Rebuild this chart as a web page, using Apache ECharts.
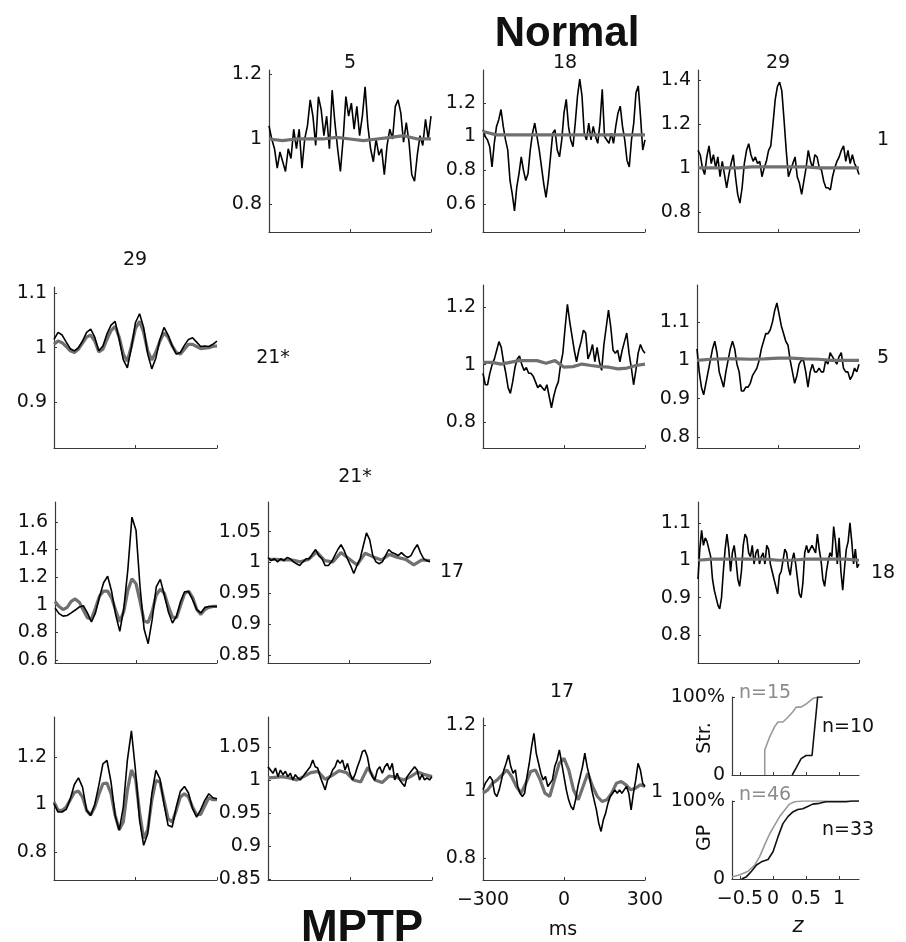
<!DOCTYPE html>
<html>
<head>
<meta charset="utf-8">
<script src="https://cdn.jsdelivr.net/npm/echarts@6/dist/echarts.min.js"></script>
<style>
  html, body { margin: 0; background: #fff; }
  #chart { width: 906px; height: 942px; }
</style>
</head>
<body>
<div id="chart"></div>
<script>
// ---- cross-correlograms, black = raw, gray = shift predictor (sampled evenly over -300..300 ms)
// Normal (upper triangle)
const normal_1_5 = [1.04,1.0,0.97,0.91,0.96,0.93,0.90,0.97,0.94,1.03,0.97,1.03,0.91,1.0,1.04,1.12,1.07,0.98,1.13,1.09,1.01,1.07,0.97,1.15,1.05,0.97,0.90,1.0,1.13,1.07,1.11,1.03,1.10,1.01,1.07,1.16,1.04,0.97,0.93,1.0,0.95,0.97,0.89,0.98,1.03,1.0,1.10,1.12,1.08,0.99,1.05,0.99,0.89,0.87,0.95,1.01,0.98,1.06,1.0,1.07];
const normal_1_5_pred = [1.0,0.995,1.0,1.0,1.0,1.005,1.0,0.995,1.0,1.005,1.01,1.0,1.0];
const normal_1_18 = [1.04,1.0,0.98,0.94,0.82,0.96,1.06,1.10,1.16,1.06,0.98,0.92,0.74,0.66,0.56,0.70,0.78,0.88,0.80,0.74,0.78,0.92,1.02,1.08,1.0,0.92,0.82,0.72,0.64,0.74,0.88,1.02,1.04,0.92,0.88,0.98,1.14,1.22,1.06,0.98,0.94,1.08,1.24,1.34,1.24,1.02,0.98,1.08,0.98,1.06,1.0,0.96,1.08,1.28,1.0,0.98,0.96,1.02,0.96,1.06,1.14,1.18,1.06,0.98,0.86,0.82,0.98,1.08,1.26,1.30,1.12,0.92,0.98];
const normal_1_18_pred = [1.03,1.01,1.01,1.01,1.01,1.01,1.01,1.01,1.01,1.01,1.01,1.01,1.01];
const normal_1_29 = [1.08,1.06,1.0,0.97,1.05,1.10,1.02,1.06,1.0,1.05,0.96,1.03,0.97,0.91,0.97,1.02,1.06,0.96,0.88,0.84,0.91,1.02,1.08,1.11,1.06,1.03,1.05,1.02,1.03,0.96,1.0,1.03,1.08,1.10,1.20,1.31,1.37,1.39,1.35,1.22,1.08,0.96,0.99,1.02,1.05,0.96,0.93,0.88,0.94,1.0,1.08,1.03,1.0,1.06,1.05,1.0,0.99,0.94,0.91,0.91,0.90,0.96,1.0,1.03,1.05,1.08,1.10,1.03,1.08,1.02,1.06,1.02,1.0,0.97];
const normal_1_29_pred = [1.0,1.0,1.0,1.0,1.005,1.005,1.005,1.005,1.005,1.0,1.0,1.0,1.0];
const normal_5_18 = [0.97,0.93,0.93,0.97,1.0,1.02,1.05,1.08,1.06,1.01,0.97,0.92,0.90,0.94,0.99,1.02,1.03,1.0,0.98,0.99,0.97,0.97,0.96,0.94,0.92,0.93,0.92,0.91,0.93,0.89,0.85,0.89,0.92,0.94,1.0,1.04,1.13,1.21,1.15,1.10,1.05,1.01,1.05,1.08,1.12,1.11,1.02,1.04,1.07,1.01,1.06,1.01,0.98,1.07,1.13,1.19,1.13,1.05,1.04,1.05,1.01,1.05,1.08,1.11,1.04,0.99,0.93,0.98,1.04,1.07,1.05,1.04];
const normal_5_18_pred = [1.008,1.008,1.002,1.008,1.014,1.014,1.014,1.005,1.014,0.991,0.993,1.002,0.997,0.993,0.991,0.985,0.988,0.997,1.002];
const normal_5_29 = [1.03,0.97,0.93,0.91,0.94,0.97,1.0,1.03,1.05,1.02,0.97,0.95,0.93,0.97,1.0,1.03,1.05,1.03,0.99,0.97,0.92,0.92,0.93,0.93,0.94,0.96,0.97,0.98,1.0,1.03,1.05,1.07,1.07,1.08,1.10,1.13,1.15,1.12,1.09,1.07,1.05,1.04,1.0,0.97,0.94,0.96,0.99,1.0,1.0,0.97,0.93,0.97,0.99,0.97,0.97,0.98,0.97,0.97,1.0,0.99,1.02,1.01,1.0,0.99,1.01,1.02,0.98,0.97,0.97,0.95,0.96,0.98,0.97,0.99];
const normal_5_29_pred = [1.0,1.003,1.004,1.004,1.003,1.004,1.006,1.006,1.004,1.003,1.0,1.0,1.0];
const normal_18_29 = [0.95,1.03,1.08,1.04,1.06,1.05,1.03,1.01,0.95,0.92,0.90,0.88,0.87,0.90,0.97,1.03,1.07,1.03,0.97,1.02,1.04,1.0,0.95,0.93,0.97,1.04,1.07,1.06,1.02,1.01,1.04,0.99,1.02,1.03,0.99,1.01,1.02,0.99,1.04,1.03,0.99,0.97,0.95,0.93,0.91,0.96,0.97,1.0,1.03,1.02,0.98,0.96,1.0,1.02,0.99,0.95,0.91,0.90,0.94,1.02,1.04,1.02,1.03,1.04,1.03,1.02,1.07,1.03,1.0,0.95,0.93,0.97,1.0,1.02,1.01,1.09,1.05,0.99,1.06,0.97,0.92,0.98,1.03,1.05,1.10,1.05,0.99,1.03,0.98,0.99];
const normal_18_29_pred = [1.0,1.003,1.003,1.003,1.003,1.003,1.0,1.0,1.003,1.003,1.003,1.003,1.0];

// MPTP (lower triangle)
const mptp_29_21 = [1.015,1.028,1.023,1.010,0.998,0.994,1.0,1.012,1.028,1.034,1.019,0.994,1.003,1.025,1.041,1.048,1.015,0.978,0.963,1.0,1.046,1.062,1.037,0.988,0.961,0.981,1.015,1.037,1.023,1.003,0.988,0.991,1.004,1.015,1.018,1.010,1.002,1.003,1.002,1.006,1.012];
const mptp_29_21_pred = [1.006,1.012,1.009,1.002,0.994,0.991,0.997,1.008,1.019,1.023,1.012,0.992,0.997,1.015,1.031,1.039,1.019,0.988,0.975,1.003,1.035,1.048,1.028,0.994,0.977,0.992,1.012,1.027,1.019,1.003,0.991,0.988,0.997,1.006,1.006,1.002,0.998,0.999,1.0,1.002,1.003];
const mptp_29_17 = [0.976,0.936,0.918,0.922,0.941,0.962,0.984,0.993,0.941,0.875,0.941,1.059,1.160,1.207,1.094,0.925,0.807,0.976,1.259,1.635,1.541,1.129,0.824,0.718,0.894,1.129,1.184,1.071,0.948,0.868,0.918,1.024,1.094,1.094,1.035,0.965,0.941,0.981,0.988,0.988,0.988];
const mptp_29_17_pred = [1.024,0.988,0.965,0.981,1.024,1.042,1.019,0.960,0.906,0.896,0.976,1.064,1.099,1.099,1.047,0.958,0.878,0.953,1.106,1.188,1.153,1.024,0.882,0.871,0.953,1.071,1.113,1.082,0.988,0.911,0.906,0.995,1.082,1.099,1.052,0.965,0.929,0.965,0.981,0.988,0.988];
const mptp_21_17 = [1.008,1.003,1.006,1.001,1.006,1.003,1.008,1.006,1.001,0.998,0.995,1.001,1.006,1.006,1.014,1.021,1.011,1.006,0.995,0.995,1.001,1.011,1.021,1.029,1.019,1.006,0.995,0.982,0.995,1.006,1.027,1.048,1.037,1.011,1.001,0.998,1.001,1.011,1.021,1.016,1.014,1.011,1.016,1.011,1.008,1.011,1.021,1.029,1.016,1.006,1.003,1.001];
const mptp_21_17_pred = [1.005,1.005,1.004,1.004,1.001,1.005,1.017,1.003,1.001,1.016,1.006,0.996,1.015,1.009,1.004,1.013,1.008,1.005,0.996,1.004,1.003];
const mptp_29_1 = [1.003,0.968,0.968,0.979,1.024,1.084,1.112,1.073,0.975,0.954,1.0,1.080,1.171,1.185,1.094,0.954,0.891,0.989,1.185,1.310,1.143,0.933,0.828,0.877,1.045,1.143,1.108,1.0,0.912,0.905,0.989,1.055,1.076,1.048,0.982,0.947,0.978,1.017,1.045,1.028,1.024];
const mptp_29_1_pred = [1.010,0.975,0.975,0.989,1.020,1.050,1.056,1.031,0.975,0.955,0.989,1.042,1.087,1.090,1.045,0.954,0.894,0.926,1.059,1.145,1.108,0.968,0.856,0.894,1.017,1.101,1.094,1.017,0.940,0.926,0.975,1.031,1.045,1.031,0.989,0.957,0.958,0.994,1.028,1.020,1.020];
const mptp_21_1 = [1.020,1.015,1.010,1.018,1.005,1.015,1.008,1.013,1.005,1.010,1.0,1.008,1.003,1.0,1.005,1.010,1.015,1.020,1.030,1.020,1.018,1.005,0.995,0.985,1.0,1.005,1.015,1.020,1.030,1.025,1.030,1.015,1.025,1.010,1.0,1.008,1.020,1.030,1.043,1.045,1.035,1.015,1.005,1.0,1.015,1.020,1.010,1.020,1.025,1.015,1.025,1.0,1.010,1.0,0.995,0.990,1.005,1.010,1.015,1.020,1.015,1.0,1.008,1.0,1.003,1.0,1.005];
const mptp_21_1_pred = [1.003,1.004,1.005,1.003,1.0,1.005,1.011,1.013,1.001,1.007,1.014,1.011,1.0,0.997,1.019,1.0,0.996,1.006,1.004,1.0,1.005,1.012,1.008,1.005];
const mptp_17_1 = [1.005,1.025,1.035,1.045,1.035,0.995,0.985,1.005,1.035,1.065,1.085,1.110,1.075,1.055,1.065,1.015,0.995,0.985,0.995,1.045,1.085,1.135,1.175,1.115,1.085,1.055,1.035,1.045,1.015,1.025,1.035,1.075,1.095,1.125,1.085,1.045,1.005,0.975,0.955,0.945,0.975,1.015,1.045,1.075,1.115,1.075,1.045,1.005,0.975,0.945,0.905,0.880,0.915,0.935,0.965,0.985,0.995,1.005,0.995,1.005,0.995,1.005,1.015,0.995,0.945,0.995,1.035,1.085,1.065,1.025,1.015];
const mptp_17_1_pred = [0.995,1.005,1.025,1.035,1.050,1.065,1.045,1.015,0.995,1.025,1.060,1.065,1.035,0.995,0.985,1.035,1.085,1.100,1.065,1.005,0.975,1.015,1.055,1.015,0.985,0.970,0.975,0.995,1.025,1.030,1.020,1.005,1.010,1.020,1.015];

// ---- cumulative distributions of z
const strZNormal = [-0.125,-0.125,-0.05,0.025,0.075,0.15,0.225,0.3,0.35,0.425,0.5,0.6,0.675];
const strCdfNormal = [0,0.32,0.49,0.62,0.68,0.68,0.74,0.81,0.87,0.87,0.91,0.98,1.0];
const strZMptp = [0.29,0.35,0.425,0.5,0.59,0.675,0.75];
const strCdfMptp = [0,0.09,0.21,0.25,0.25,1.0,1.0];
const gpZNormal = [-0.62,-0.5,-0.375,-0.275,-0.2,-0.125,-0.05,0.025,0.1,0.175,0.25,0.325,0.45,1.3];
const gpCdfNormal = [0.025,0.055,0.10,0.18,0.29,0.44,0.58,0.69,0.80,0.88,0.96,0.99,1.0,1.0];
const gpZMptp = [-0.475,-0.4,-0.325,-0.25,-0.175,-0.075,0,0.075,0.15,0.225,0.3,0.375,0.45,0.525,0.6,0.7,0.8,1.1,1.2,1.3];
const gpCdfMptp = [0,0.03,0.10,0.18,0.22,0.25,0.35,0.54,0.71,0.80,0.86,0.89,0.90,0.93,0.96,0.97,0.99,0.99,1.0,1.0];

// ---- tick labels
const lagTicks = [-300, 0, 300];
const ticksA = [0.8, 1, 1.2];
const ticksB = [0.6, 0.8, 1, 1.2];
const ticksC = [0.8, 1, 1.2, 1.4];
const ticksD = [0.9, 1, 1.1];
const ticksF = [0.8, 0.9, 1, 1.1];
const ticksG = [0.6, 0.8, 1, 1.2, 1.4, 1.6];
const ticksH = [0.85, 0.9, 0.95, 1, 1.05];
const zTicks = [-0.5, 0, 0.5, 1];
const pctTicks = [0, 1];

const FONT = "'DejaVu Sans', sans-serif";
const BOLD_FONT = "'Liberation Sans', Arial, sans-serif";
const AXIS = "#3a3a3a";
const GRAY = "#707070";

// layout: [left, top, width, height]
const panels = [
    { box: [269, 70, 162, 162], y: [0.714, 1.212], ticks: ticksA, raw: normal_1_5, pred: normal_1_5_pred, predTop: true },
    { box: [483, 70, 162, 162], y: [0.435, 1.394], ticks: ticksB, raw: normal_1_18, pred: normal_1_18_pred, predTop: true },
    { box: [698, 70, 161, 162], y: [0.709, 1.445], ticks: ticksC, raw: normal_1_29, pred: normal_1_29_pred, predTop: true },
    { box: [54, 287, 163, 161], y: [0.816, 1.111], ticks: ticksD, raw: mptp_29_21, pred: mptp_29_21_pred },
    { box: [483, 285, 162, 163], y: [0.71, 1.277], ticks: ticksA, raw: normal_5_18, pred: normal_5_18_pred, predTop: true },
    { box: [697, 285, 162, 163], y: [0.771, 1.197], ticks: ticksF, raw: normal_5_29, pred: normal_5_29_pred, predTop: true },
    { box: [55, 502, 162, 161], y: [0.578, 1.745], ticks: ticksG, raw: mptp_29_17, pred: mptp_29_17_pred },
    { box: [268, 502, 162, 161], y: [0.837, 1.098], ticks: ticksH, raw: mptp_21_17, pred: mptp_21_17_pred },
    { box: [698, 502, 161, 161], y: [0.725, 1.156], ticks: ticksF, raw: normal_18_29, pred: normal_18_29_pred, predTop: true },
    { box: [54, 717, 163, 163], y: [0.682, 1.368], ticks: ticksA, raw: mptp_29_1, pred: mptp_29_1_pred },
    { box: [268, 717, 164, 163], y: [0.849, 1.095], ticks: ticksH, raw: mptp_21_1, pred: mptp_21_1_pred },
    { box: [483, 718, 162, 162], y: [0.734, 1.221], ticks: ticksA, raw: mptp_17_1, pred: mptp_17_1_pred, xLabels: true }
];

function lagPairs(ys) {
    const step = 600 / (ys.length - 1);
    return ys.map((v, i) => [-300 + i * step, v]);
}
function zip(xs, ys) {
    return xs.map((x, i) => [x, ys[i]]);
}
function minus(v) {
    return v < 0 ? "\u2212" + Math.abs(v) : String(+Number(v).toFixed(2));
}

const labelStyle = { fontFamily: FONT, fontSize: 19, color: "#111" };
const grids = [], xAxes = [], yAxes = [], series = [];

function addAxes(idx, xMin, xMax, xTicks, showX, yMin, yMax, yTicks, yFmt) {
    xAxes.push({
        type: "value", gridIndex: idx, min: xMin, max: xMax,
        axisLine: { show: true, onZero: false, lineStyle: { color: AXIS, width: 1.2 } },
        axisTick: { show: true, inside: true, length: 3, customValues: xTicks, lineStyle: { color: AXIS } },
        axisLabel: Object.assign({ show: showX, customValues: xTicks, formatter: minus, margin: 11 }, labelStyle),
        splitLine: { show: false }
    });
    yAxes.push({
        type: "value", gridIndex: idx, min: yMin, max: yMax,
        axisLine: { show: true, onZero: false, lineStyle: { color: AXIS, width: 1.2 } },
        axisTick: { show: true, inside: true, length: 3, customValues: yTicks, lineStyle: { color: AXIS } },
        axisLabel: Object.assign({ customValues: yTicks, formatter: yFmt, margin: 7 }, labelStyle),
        splitLine: { show: false }
    });
}

panels.forEach((p, i) => {
    grids.push({ left: p.box[0], top: p.box[1], width: p.box[2], height: p.box[3] });
    addAxes(i, -300, 300, lagTicks, !!p.xLabels, p.y[0], p.y[1], p.ticks, minus);
    const raw = {
        type: "line", xAxisIndex: i, yAxisIndex: i, data: lagPairs(p.raw),
        showSymbol: false, silent: true, animation: false,
        lineStyle: { color: "#000", width: 1.6 }
    };
    const pred = {
        type: "line", xAxisIndex: i, yAxisIndex: i, data: lagPairs(p.pred),
        showSymbol: false, silent: true, animation: false,
        lineStyle: { color: GRAY, width: 3.2 }
    };
    if (p.predTop) series.push(raw, pred); else series.push(pred, raw);
});

// CDF panels
const cdfPanels = [
    { box: [732, 697, 127, 78], showX: false, normal: zip(strZNormal, strCdfNormal), mptp: zip(strZMptp, strCdfMptp) },
    { box: [732, 801, 127, 78], showX: true, normal: zip(gpZNormal, gpCdfNormal), mptp: zip(gpZMptp, gpCdfMptp) }
];
cdfPanels.forEach((c) => {
    const i = grids.length;
    grids.push({ left: c.box[0], top: c.box[1], width: c.box[2], height: c.box[3] });
    addAxes(i, -0.62, 1.3, zTicks, c.showX, 0, 1, pctTicks, v => (v === 1 ? "100%" : "0"));
    series.push(
        { type: "line", xAxisIndex: i, yAxisIndex: i, data: c.normal, showSymbol: false, silent: true, animation: false,
          lineStyle: { color: "#9a9a9a", width: 1.6 } },
        { type: "line", xAxisIndex: i, yAxisIndex: i, data: c.mptp, showSymbol: false, silent: true, animation: false,
          lineStyle: { color: "#111", width: 1.6 } }
    );
});

function txt(text, x, y, extra) {
    const st = Object.assign({
        text, fontFamily: FONT, fontSize: 19, fill: "#111",
        align: "center", verticalAlign: "middle", textAlign: "center", textVerticalAlign: "middle"
    }, extra || {});
    return { type: "text", x, y, silent: true, style: st };
}

const labels = [
    txt("Normal", 567, 34, { fontFamily: BOLD_FONT, fontSize: 42, fontWeight: "bold" }),
    txt("MPTP", 362, 929, { fontFamily: BOLD_FONT, fontSize: 44, fontWeight: "bold" }),
    txt("5", 350, 63), txt("18", 565, 63), txt("29", 778, 63),
    txt("1", 883, 140), txt("5", 883, 358), txt("18", 883, 573),
    txt("29", 135, 260), txt("21*", 273, 358),
    txt("21*", 355, 477), txt("17", 452, 572),
    txt("17", 562, 692), txt("1", 657, 792),
    txt("ms", 563, 930),
    txt("z", 798, 927, { fontStyle: "italic", fontSize: 21 }),
    Object.assign(txt("Str.", 705, 738), { rotation: Math.PI / 2 }),
    Object.assign(txt("GP", 705, 838), { rotation: Math.PI / 2 }),
    txt("n=15", 739, 693, { fill: "#8c8c8c", align: "left", textAlign: "left" }),
    txt("n=10", 822, 727, { align: "left", textAlign: "left" }),
    txt("n=46", 739, 795, { fill: "#8c8c8c", align: "left", textAlign: "left" }),
    txt("n=33", 822, 830, { align: "left", textAlign: "left" })
];

const chart = echarts.init(document.getElementById("chart"), null, { renderer: "canvas" });
chart.setOption({
    backgroundColor: "#fff",
    animation: false,
    grid: grids,
    xAxis: xAxes,
    yAxis: yAxes,
    series: series,
    graphic: labels
});
</script>
</body>
</html>
